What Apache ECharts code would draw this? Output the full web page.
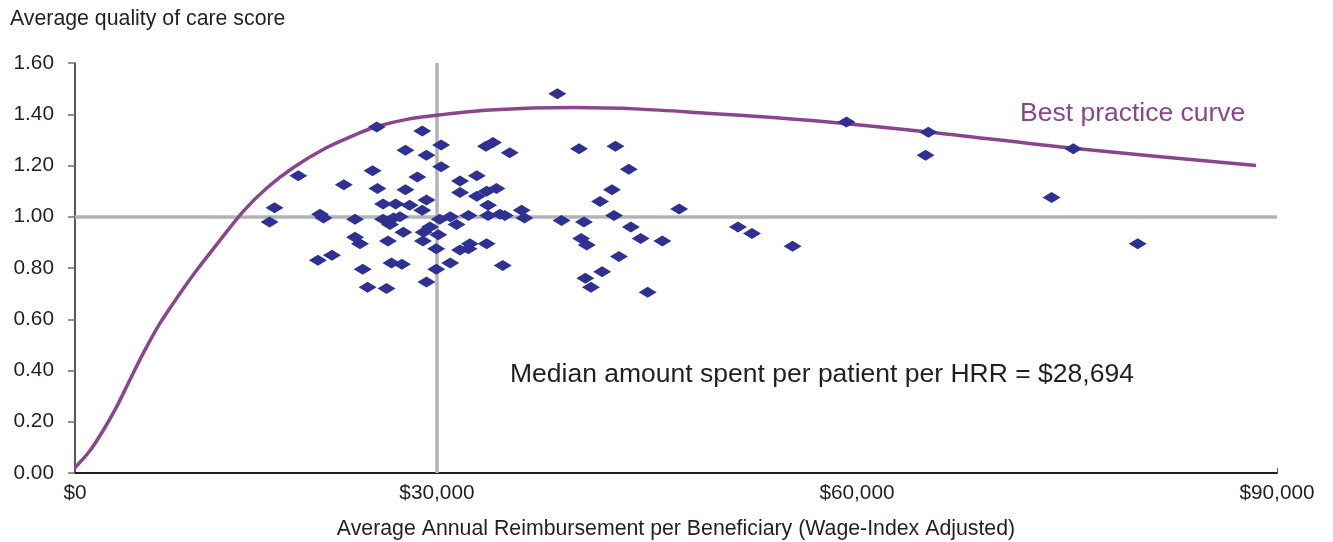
<!DOCTYPE html>
<html>
<head>
<meta charset="utf-8">
<script src="https://cdn.jsdelivr.net/npm/echarts@6/dist/echarts.min.js"></script>
<style>
  html, body { margin: 0; padding: 0; background: #fff; }
  #chart { width: 1333px; height: 542px; }
</style>
</head>
<body>
<div id="chart"></div>
<script>
// plot starts a bit above zero; the source labels that edge "$0"
var xMin = 4150
var xMax = 90000
var xTicks = [xMin, 30000, 60000, 90000]
var yTicks = [0, 0.2, 0.4, 0.6, 0.8, 1.0, 1.2, 1.4, 1.6]

var medianX = 30000   // drawn position of the median line
var avgQuality = 1.0

// HRRs: spend per beneficiary / quality score
var spendX = [25700, 28950, 30300, 27750, 29250, 33500, 34000, 35200, 30300, 20100,
  25400, 28600, 31650, 32850, 23350, 25750, 27750, 31650, 32850, 33550,
  34250, 18400, 26150, 27050, 28050, 29250, 28950, 33650, 36050, 18050,
  21650, 21900, 24150, 26150, 26900, 27350, 26650, 30200, 30950, 32250,
  33650, 34500, 34850, 36250, 38900, 29500, 31400, 29050, 27600, 24150,
  24500, 26500, 29000, 30100, 29950, 31650, 32350, 32250, 33550, 21500,
  22500, 26750, 27500, 30950, 34700, 24700, 29950, 25050, 26400, 29250,
  38600, 40150, 42750, 43700, 42500, 41650, 47300, 42650, 40500, 43850,
  44550, 46100, 40300, 40700, 43000, 41800, 40600, 41000, 45050, 51500,
  52500, 59250, 65100, 64900, 75450, 73900, 80050, 55400]
var qualityY = [1.35, 1.335, 1.28, 1.26, 1.24, 1.275, 1.29, 1.25, 1.195, 1.16,
  1.18, 1.155, 1.14, 1.16, 1.125, 1.11, 1.105, 1.095, 1.08, 1.10,
  1.11, 1.035, 1.05, 1.05, 1.045, 1.065, 1.025, 1.045, 1.025, 0.98,
  1.01, 0.995, 0.99, 0.99, 0.995, 1.0, 0.97, 0.99, 1.0, 1.005,
  1.005, 1.01, 1.005, 0.995, 0.985, 0.96, 0.97, 0.94, 0.94, 0.92,
  0.895, 0.905, 0.905, 0.93, 0.875, 0.87, 0.895, 0.875, 0.895, 0.83,
  0.85, 0.82, 0.815, 0.82, 0.81, 0.795, 0.795, 0.725, 0.72, 0.745,
  1.48, 1.265, 1.275, 1.185, 1.105, 1.06, 1.03, 1.005, 0.98, 0.96,
  0.915, 0.905, 0.915, 0.89, 0.845, 0.785, 0.76, 0.725, 0.705, 0.96,
  0.935, 1.37, 1.33, 1.24, 1.265, 1.075, 0.895, 0.885]

// best practice curve
var curveX = [4150, 5200, 6150, 7100, 8050, 9000, 10200, 11400, 12850, 14250,
  16150, 17850, 19750, 22100, 24250, 25700, 27850, 30100, 33800,
  39750, 44500, 49250, 54000, 58550, 65100, 75450, 88500]
var curveY = [0.021, 0.086, 0.165, 0.256, 0.361, 0.465, 0.583, 0.681, 0.792, 0.890,
  1.020, 1.112, 1.192, 1.269, 1.322, 1.352, 1.380, 1.397, 1.417,
  1.426, 1.420, 1.404, 1.387, 1.367, 1.331, 1.267, 1.200]

var textColor = '#231f20'
var purple = '#8a468c'
var font = 'Liberation Sans, Arial, sans-serif'

var chart = echarts.init(document.getElementById('chart'))

chart.setOption({
  animation: false,
  textStyle: { fontFamily: font },
  title: {
    text: 'Average quality of care score',
    left: 5, top: 4,
    textStyle: { fontSize: 21.3, fontWeight: 'normal', color: textColor, fontFamily: font }
  },
  grid: { left: 75, right: 56, top: 63, bottom: 69, containLabel: false, outerBoundsMode: 'none' },
  xAxis: {
    type: 'value',
    min: xMin,
    max: xMax,
    name: 'Average Annual Reimbursement per Beneficiary (Wage-Index Adjusted)',
    nameLocation: 'middle',
    nameGap: 46,
    nameTextStyle: { fontSize: 21.3, color: textColor },
    axisLine: { show: true, onZero: false, lineStyle: { color: textColor, width: 2 } },
    axisTick: { show: true, inside: true, length: 5, customValues: [90000], lineStyle: { color: '#555' } },
    axisLabel: {
      customValues: xTicks,
      fontSize: 20.8,
      color: textColor,
      margin: 10,
      formatter: function (v) {
        if (v === xMin) return '$0'
        return '$' + v.toLocaleString('en-US')
      }
    },
    splitLine: { show: false }
  },
  yAxis: {
    type: 'value',
    min: 0,
    max: 1.6,
    interval: 0.2,
    axisLine: { show: true, lineStyle: { color: textColor, width: 1.5 } },
    axisTick: { show: true, length: 7, lineStyle: { color: '#6d6e71', width: 1.5 } },
    axisLabel: {
      fontSize: 20.8,
      color: textColor,
      margin: 21,
      formatter: function (v) { return v.toFixed(2) }
    },
    splitLine: { show: false }
  },
  graphic: [
    {
      type: 'text', left: 1020, top: 100,
      style: { text: 'Best practice curve', fill: purple, fontSize: 26.5, fontFamily: font }
    },
    {
      type: 'text', left: 510, top: 361,
      style: { text: 'Median amount spent per patient per HRR = $28,694', fill: textColor, fontSize: 26.5, fontFamily: font }
    }
  ],
  series: [
    {
      type: 'line',
      data: curveX.map(function (x, i) { return [x, curveY[i]] }),
      smooth: 0.3,
      showSymbol: false,
      lineStyle: { color: purple, width: 3.5 },
      z: 3,
      silent: true
    },
    {
      type: 'scatter',
      data: spendX.map(function (x, i) { return [x, qualityY[i]] }),
      symbol: 'diamond',
      symbolSize: [18, 11],
      itemStyle: { color: '#2e3192', opacity: 1 },
      z: 4,
      markLine: {
        silent: true,
        symbol: ['none', 'none'],
        label: { show: false },
        lineStyle: { color: '#b1b3b6', width: 3.5, type: 'solid' },
        data: [{ xAxis: medianX }, { yAxis: avgQuality }],
        z: 1
      }
    }
  ]
})
</script>
</body>
</html>
